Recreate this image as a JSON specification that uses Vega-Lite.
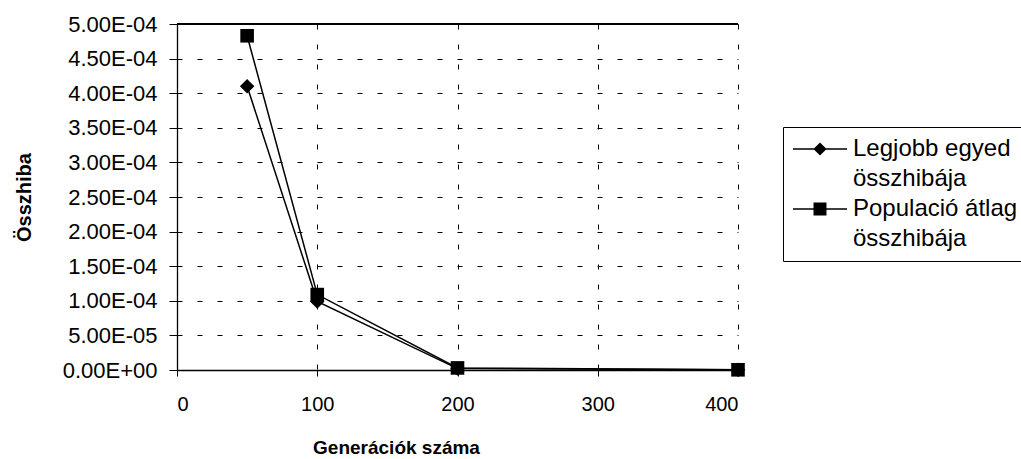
{
  "$schema": "https://vega.github.io/schema/vega-lite/v6.json",
  "autosize": {"type": "none"},
  "width": 561,
  "height": 346,
  "padding": {"left": 177, "top": 24, "right": 283, "bottom": 89},
  "background": "white",
  "config": {
    "font": "Liberation Sans",
    "view": {"stroke": null},
    "style": {"guide-label": {"lineHeight": 30}},
    "axis": {"labelColor": "black", "titleColor": "black", "domainColor": "black", "tickColor": "black", "gridColor": "black", "gridOpacity": 1, "gridDash": [5, 15], "gridWidth": 1, "domainWidth": 1.3}
  },
  "data": {
    "values": [
      {"series": "Legjobb egyed összhibája", "gen": 50, "err": 0.000410},
      {"series": "Legjobb egyed összhibája", "gen": 100, "err": 0.000099},
      {"series": "Legjobb egyed összhibája", "gen": 200, "err": 0.000002},
      {"series": "Legjobb egyed összhibája", "gen": 400, "err": 0.0000002},
      {"series": "Populació átlag összhibája", "gen": 50, "err": 0.000483},
      {"series": "Populació átlag összhibája", "gen": 100, "err": 0.000109},
      {"series": "Populació átlag összhibája", "gen": 200, "err": 0.000003},
      {"series": "Populació átlag összhibája", "gen": 400, "err": 0.0000003}
    ]
  },
  "encoding": {
    "x": {
      "field": "gen", "type": "quantitative",
      "scale": {"domain": [0, 400], "nice": false, "zero": false},
      "axis": {"values": [0, 100, 200, 300, 400], "grid": true, "tickSize": 6, "labelFontSize": 20, "labelPadding": 18, "title": "Generációk száma", "titleFontSize": 19, "titleFontWeight": "bold", "titlePadding": 24, "titleX": 219, "titleAlign": "center"}
    },
    "y": {
      "field": "err", "type": "quantitative",
      "scale": {"domain": [0, 0.0005], "nice": false},
      "axis": {"values": [0, 0.00005, 0.0001, 0.00015, 0.0002, 0.00025, 0.0003, 0.00035, 0.0004, 0.00045, 0.0005], "grid": true, "tickSize": 8, "labelFontSize": 22, "labelPadding": 12, "labelExpr": "replace(replace(format(datum.value, '.2e'), 'e-', 'E-0'), 'e+', 'E+0')", "title": "Összhiba", "titleFontSize": 20, "titleFontWeight": "bold", "titlePadding": 28}
    }
  },
  "layer": [
    {
      "mark": {"type": "rule", "color": "black", "strokeWidth": 1.3},
      "encoding": {"y": {"datum": 0.0005}, "x": {"value": 0}, "x2": {"value": 561}}
    },
    {
      "mark": {"type": "line", "color": "black", "strokeWidth": 1.5},
      "encoding": {"detail": {"field": "series"}}
    },
    {
      "transform": [{"filter": "datum.series == 'Legjobb egyed összhibája'"}],
      "mark": {"type": "point", "shape": "diamond", "filled": true, "color": "black", "opacity": 1, "size": 210}
    },
    {
      "transform": [{"filter": "datum.series == 'Populació átlag összhibája'"}],
      "mark": {"type": "point", "shape": "square", "filled": true, "color": "black", "opacity": 1, "size": 185}
    },
    {
      "mark": {"type": "point", "filled": true, "color": "black", "opacity": 0, "size": 576},
      "encoding": {
        "shape": {
          "field": "series", "type": "nominal",
          "scale": {"domain": ["Legjobb egyed összhibája", "Populació átlag összhibája"], "range": ["M-1,-0.07H3.5V0.07H-1ZM1.25,-0.55L1.8,0L1.25,0.55L0.7,0Z", "M-1,-0.07H3.5V0.07H-1ZM0.71,-0.54H1.79V0.54H0.71Z"]},
          "legend": {
            "title": null,
            "orient": "none", "legendX": 606, "legendY": 103,
            "direction": "vertical",
            "strokeColor": "black", "fillColor": "white", "padding": 10,
            "symbolSize": 576, "symbolStrokeWidth": 0, "symbolFillColor": "black", "symbolOpacity": 1,
            "labelFontSize": 24, "labelColor": "black", "labelLimit": 400, "labelOffset": 36, "rowPadding": 6,
            "labelExpr": "datum.label == 'Legjobb egyed összhibája' ? ['Legjobb egyed', 'összhibája'] : ['Populació átlag', 'összhibája']"
          }
        }
      }
    }
  ]
}
